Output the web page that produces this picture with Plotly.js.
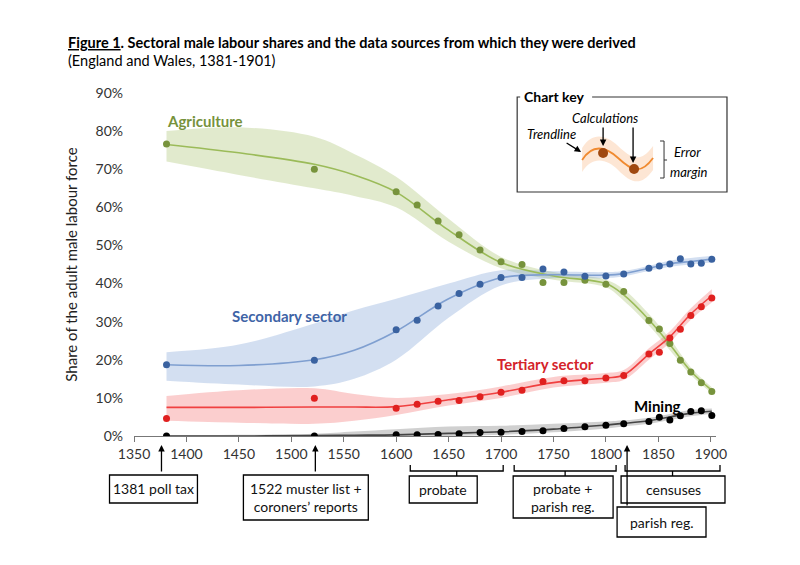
<!DOCTYPE html>
<html><head><meta charset="utf-8">
<script src="https://cdn.plot.ly/plotly-3.0.1.min.js"></script>
<style>body{margin:0;background:#fff}#c{width:800px;height:565px}</style>
</head><body><div id="c"></div>
<script>
// ---- data ----
const obsYears = [1381,1522,1600,1620,1640,1660,1680,1700,1720,1740,1760,1780,1800,1817,1841,1851,1861,1871,1881,1891,1901];
const agriculture = [76.6,70.0,64.1,60.6,56.4,52.8,48.8,45.7,45.0,40.3,40.3,40.9,39.8,37.9,30.3,28.1,24.3,19.9,16.8,14.0,11.7];
const secondary   = [18.7,19.9,27.9,30.4,34.1,37.4,39.8,41.6,41.6,43.8,43.0,41.9,42.0,42.5,44.0,44.6,45.1,46.5,45.1,45.3,46.4];
const tertiary    = [4.6,9.9,7.3,8.3,9.1,9.3,10.3,11.5,12.0,14.3,14.5,14.5,15.2,15.9,21.5,22.0,25.7,28.0,31.6,33.9,36.2];
const mining      = [0,0,0.35,0.35,0.4,0.6,0.9,1.0,1.2,1.4,2.0,2.4,2.8,3.2,3.8,4.9,4.2,5.3,6.4,6.6,5.4];

const trendYears = [1381,1450,1522,1560,1600,1650,1700,1750,1800,1817,1841,1861,1881,1901];
const agriTrend = [76.5,74.3,71.3,68.5,64,54,45.5,42,40,37,30.5,24,17,12];
const agriUpper = [80,81,78.5,74,68,57,47,43,41,38.5,32,25.5,18,12.8];
const agriLower = [72,68.5,65,63,60,51,44,41,39,35.5,29,22.5,16,11.2];
const secTrend = [18.7,18.5,20,22.5,27.5,36,41.5,42.3,42.2,42.6,44,45.2,45.8,46.4];
const secUpper = [22,24,29.5,33,36,40,43.5,43.2,43,43.3,44.7,46,46.7,47.3];
const secLower = [14.5,13.5,13,15,20,31,39.5,41.4,41.4,41.9,43.3,44.4,45,45.5];
const terTrend = [7.5,7.5,7.6,7.6,7.7,9.5,11.5,14,15.2,16,21.5,26,32,36.8];
const terUpper = [10.5,12,12.5,11,10,11,13,15.5,16.5,17.3,23,27.5,33.5,38.5];
const terLower = [4,3.5,3.2,4,5.5,8,10,12.7,14,14.7,20,24.5,30.5,35];
const minTrend = [0,0,0.1,0.2,0.3,0.7,1.1,1.8,2.9,3.3,4.0,5.0,6.0,6.5];
const minUpper = [0.2,0.3,0.6,1.2,1.8,2.5,2.7,3.2,3.8,4.1,4.8,5.8,6.8,7.2];
const minLower = [0,0,0,0,0,0,0.3,1,2,2.5,3.2,4.2,5.2,5.8];

const xTicks = [1350,1400,1450,1500,1550,1600,1650,1700,1750,1800,1850,1900];
const yTicks = [0,10,20,30,40,50,60,70,80,90];

// ---- drawing ----
const F = "Lato, 'Open Sans', sans-serif";
const series = [
  {y:agriculture,t:agriTrend,u:agriUpper,l:agriLower,mc:'#77933C',lc:'#9BBB59',bc:'rgba(155,187,89,0.3)'},
  {y:secondary,t:secTrend,u:secUpper,l:secLower,mc:'#3A62A0',lc:'#7F9FD0',bc:'rgba(110,150,210,0.3)'},
  {y:tertiary,t:terTrend,u:terUpper,l:terLower,mc:'#E0201F',lc:'#F04040',bc:'rgba(240,80,80,0.28)'},
  {y:mining,t:minTrend,u:minUpper,l:minLower,mc:'#000000',lc:'#444444',bc:'rgba(120,120,120,0.35)'}
];
const traces = [];
series.forEach(s=>{
  traces.push({x:trendYears,y:s.l,mode:'lines',line:{width:0,shape:'spline'},hoverinfo:'skip',showlegend:false});
  traces.push({x:trendYears,y:s.u,mode:'lines',line:{width:0,shape:'spline'},fill:'tonexty',fillcolor:s.bc,hoverinfo:'skip',showlegend:false});
});
series.forEach(s=>{
  traces.push({x:trendYears,y:s.t,mode:'lines',line:{width:1.6,color:s.lc,shape:'spline'},showlegend:false});
});
series.forEach(s=>{
  traces.push({x:obsYears,y:s.y,mode:'markers',marker:{size:7,color:s.mc},showlegend:false});
});

// pixel -> paper helpers
const L=133.5,R=716,T=93,B=436;
const px=x=>(x-L)/(R-L), py=y=>(B-y)/(B-T);
const shapes=[], ann=[];
function txt(x,y,text,size,color,xa){
  ann.push({xref:'paper',yref:'paper',x:px(x),y:py(y),text:text,showarrow:false,xanchor:xa||'center',yanchor:'middle',font:{family:F,size:size,color:color}});
}
function box(x0,y0,x1,y1,lines){
  shapes.push({type:'rect',xref:'paper',yref:'paper',x0:px(x0),x1:px(x1),y0:py(y0),y1:py(y1),line:{color:'#000',width:1.3},fillcolor:'#fff'});
  txt((x0+x1)/2,(y0+y1)/2,lines,14,'#111');
}
function arrow(x0,y0,x1,y1){
  ann.push({xref:'paper',yref:'paper',axref:'paper',ayref:'paper',x:px(x1),y:py(y1),ax:px(x0),ay:py(y0),text:'',showarrow:true,arrowhead:2,arrowsize:1,arrowwidth:1.3,arrowcolor:'#000',standoff:0,startstandoff:0});
}
function bracket(x0,x1,yt,yb,ys){
  const xm=(x0+x1)/2;
  shapes.push({type:'path',xref:'paper',yref:'paper',path:`M${px(x0)},${py(yt)} L${px(x0)},${py(yb)} L${px(x1)},${py(yb)} L${px(x1)},${py(yt)} M${px(xm)},${py(yb)} L${px(xm)},${py(ys)}`,line:{color:'#000',width:1.3}});
}
arrow(161,473,161,445); box(109,475,197,503,'1381 poll tax');
arrow(315,473,315,445); box(243,475,368,520,'1522 muster list +<br>coroners’ reports');
bracket(410,503,465,471,476); box(409,476,477,503,'probate');
bracket(514,616,465,471,476); box(513,476,613,518,'probate +<br>parish reg.');
arrow(627,507,627,445); box(617,507,706,537,'parish reg.');
bracket(625,720,465,471,476); box(621,476,725,503,'censuses');

// chart key
shapes.push({type:'path',xref:'paper',yref:'paper',path:`M${px(592)},${py(97)} L${px(727)},${py(97)} L${px(727)},${py(192)} L${px(517)},${py(192)} L${px(517)},${py(97)} L${px(520)},${py(97)}`,line:{color:'#333',width:1.2}});
txt(522,97,'<b>Chart key</b>',14,'#000','left');
const wave=(o)=>`M${px(582)},${py(160+o)} C${px(592)},${py(144+o)} ${px(605)},${py(146+o)} ${px(618)},${py(158+o)} S${px(640)},${py(176+o)} ${px(653)},${py(158+o)}`;
shapes.push({type:'path',xref:'paper',yref:'paper',path:wave(-12)+` L${px(653)},${py(170)} `+`C${px(640)},${py(188)} ${px(630)},${py(182)} ${px(618)},${py(170)} S${px(592)},${py(156)} ${px(582)},${py(172)} Z`,fillcolor:'rgba(250,200,160,0.45)',line:{width:0}});
shapes.push({type:'path',xref:'paper',yref:'paper',path:wave(0),line:{color:'#F08A30',width:1.8}});
shapes.push({type:'circle',xref:'paper',yref:'paper',x0:px(598),x1:px(608),y0:py(148),y1:py(158),fillcolor:'#A0480F',line:{width:0}});
shapes.push({type:'circle',xref:'paper',yref:'paper',x0:px(629),x1:px(639),y0:py(164),y1:py(174),fillcolor:'#A0480F',line:{width:0}});
txt(605,118,'<i>Calculations</i>',13,'#000');
txt(551,134,'<i>Trendline</i>',13,'#000');
txt(672,152,'<i>Error</i>',13,'#000','left');
txt(668,172,'<i>margin</i>',13,'#000','left');
arrow(603,126,603,146); arrow(633,126,633,163); arrow(565,142,581,152);
shapes.push({type:'path',xref:'paper',yref:'paper',path:`M${px(660)},${py(141)} L${px(664)},${py(141)} L${px(664)},${py(178)} L${px(660)},${py(178)} M${px(664)},${py(160)} L${px(667)},${py(160)}`,line:{color:'#333',width:1}});

// series labels
txt(205,121,'<b>Agriculture</b>',15,'#76923C');
txt(289,316,'<b>Secondary sector</b>',15,'#3F64A6');
txt(545,364,'<b>Tertiary sector</b>',15,'#D4232A');
txt(657,406,'<b>Mining</b>',15,'#000');
// title
txt(65,43,'<b><u>Figure 1</u>. Sectoral male labour shares and the data sources from which they were derived</b>',14.5,'#000','left');
txt(65,61,'(England and Wales, 1381-1901)',14.5,'#000','left');

const layout = {
  width:800,height:565,paper_bgcolor:'#fff',plot_bgcolor:'#fff',
  margin:{l:L,r:800-R,t:T,b:565-B},showlegend:false,
  font:{family:F,size:13,color:'#333'},
  xaxis:{range:[1350,1905],tickvals:xTicks,ticktext:xTicks.map(String),showgrid:false,zeroline:false,
    showline:true,linecolor:'#777',ticks:'outside',ticklen:5,tickcolor:'#777',tickfont:{size:14,color:'#333'}},
  yaxis:{range:[0,90],tickvals:yTicks,ticktext:yTicks.map(v=>v+'%'),showgrid:false,zeroline:false,showline:false,
    ticklabelstandoff:10,tickfont:{size:14,color:'#333'},title:{text:'Share of the adult male labour force',font:{size:15,color:'#222'},standoff:14}},
  shapes:shapes,annotations:ann
};
Plotly.newPlot('c',traces,layout,{displayModeBar:false,staticPlot:true});
</script></body></html>
